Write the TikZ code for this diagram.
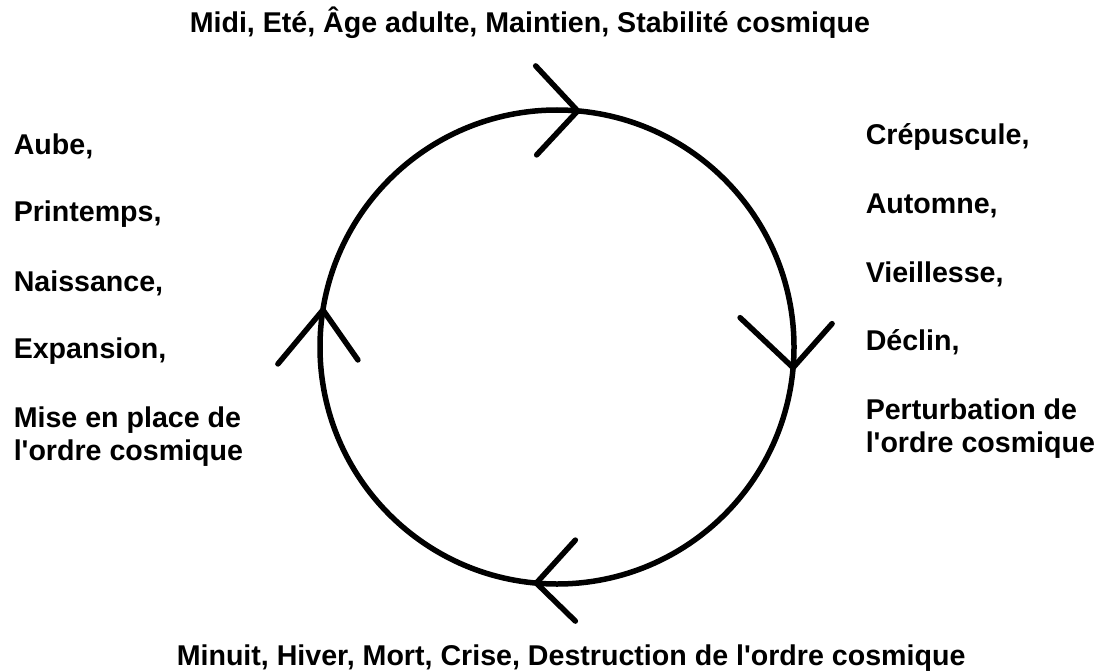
\documentclass[tikz,border=0pt]{standalone}
\usepackage{fontspec}
\setmainfont{Liberation Sans}[Ligatures=TeXOff]
\begin{document}
\begin{tikzpicture}[x=1pt,y=-1pt,line width=5.5pt,line cap=round,
  lbl/.style={font=\fontsize{28.6}{33}\selectfont\bfseries, inner sep=0, anchor=base west, align=left}]
\useasboundingbox (0,0) rectangle (1097,671);
% the cycle
\node (roue) [circle, draw, minimum size=474, inner sep=0, outer sep=0] at (557,347) {};
\draw ([shift={(-42,-45)}]roue.85)--(roue.85)--++(-41,44);
\draw ([shift={(-53,-50)}]roue.-5)--(roue.-5)--++(39,-44);
\draw ([shift={(39,-43)}]roue.265)--(roue.265)--++(39,38);
\draw ([shift={(-45,54)}]roue.171)--(roue.171)--++(35,50);
% top and bottom
\node (midi) [lbl] at (187,33) {Midi, Eté, Âge adulte, Maintien, Stabilité cosmique};
\node (minuit) [lbl] at (174,665) {Minuit, Hiver, Mort, Crise, Destruction de l'ordre cosmique};
% left side (two-line labels sit on their last line)
\node (aube) [lbl] at (11,155) {Aube,};
\node (printemps) [lbl] at (11,222) {Printemps,};
\node (naissance) [lbl] at (11,291) {Naissance,};
\node (expansion) [lbl] at (11,358) {Expansion,};
\node (miseenplace) [lbl] at (11,460) {Mise en place de\\l'ordre cosmique};
% right side
\node (crepuscule) [lbl] at (863,145) {Crépuscule,};
\node (automne) [lbl] at (863,213) {Automne,};
\node (vieillesse) [lbl] at (863,282) {Vieillesse,};
\node (declin) [lbl] at (863,350) {Déclin,};
\node (perturbation) [lbl] at (863,452) {Perturbation de\\l'ordre cosmique};
\end{tikzpicture}
\end{document}
